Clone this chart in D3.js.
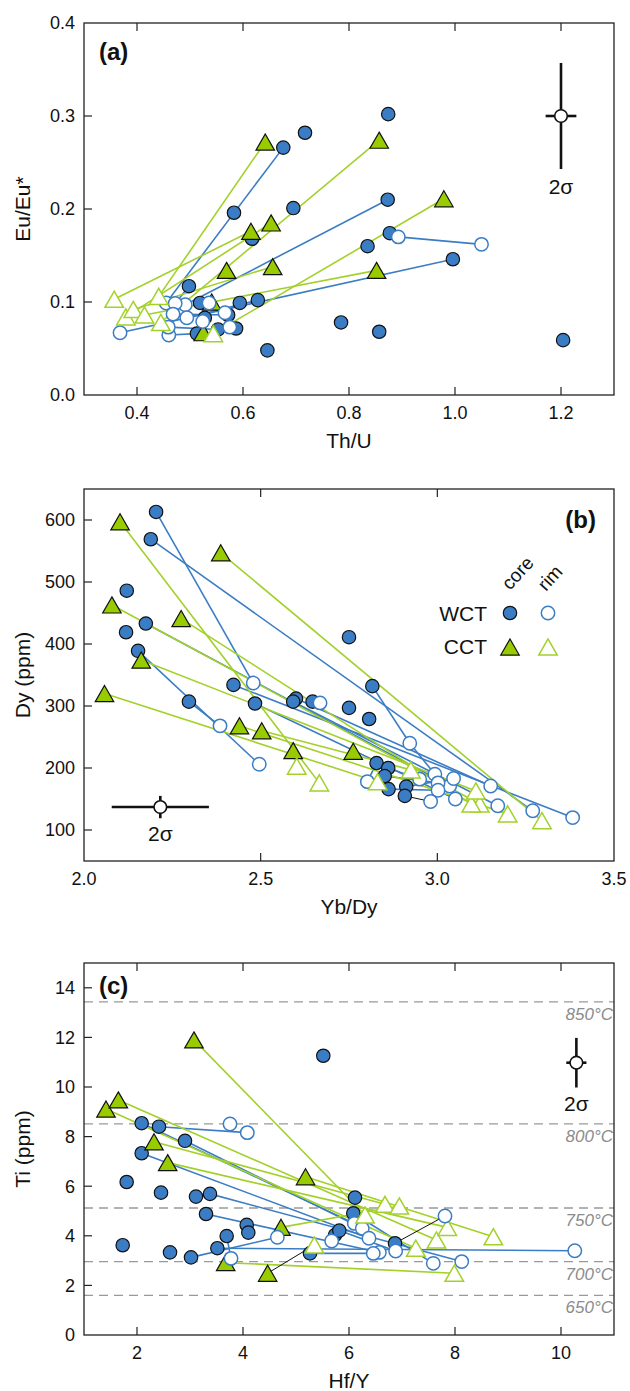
<!DOCTYPE html>
<html><head><meta charset="utf-8">
<script src="https://cdn.jsdelivr.net/npm/d3@7"></script>
<style>
body{margin:0;background:#fff}
text{font-family:"Liberation Sans",Arial,Helvetica,sans-serif;fill:#111}
</style></head><body>
<svg width="630" height="1391"></svg>
<script>
// ---- panel (a): Th/U vs Eu/Eu*  (grain = [core, rim, ...]) ----
const aWct = [
  [[0.874,0.302]], [[0.717,0.282]], [[0.676,0.266],[0.455,0.099]], [[0.583,0.196]],
  [[0.695,0.201]], [[0.617,0.168]], [[0.873,0.210],[0.491,0.097]],
  [[0.877,0.174],[0.893,0.170],[1.050,0.162]], [[0.835,0.160]],
  [[0.996,0.146],[0.368,0.067]], [[0.498,0.117],[0.472,0.0985]],
  [[0.519,0.099],[0.536,0.099]], [[0.594,0.099],[0.566,0.0885]], [[0.628,0.102],[0.494,0.083]],
  [[0.513,0.066],[0.460,0.0645]], [[0.553,0.0705],[0.459,0.073]], [[0.587,0.0715],[0.575,0.073]],
  [[0.528,0.083],[0.524,0.079]], [[0.572,0.086],[0.468,0.087]],
  [[0.646,0.048]], [[0.785,0.078]], [[0.857,0.068]], [[1.204,0.059]]
];
const aCct = [
  [[0.642,0.272],[0.441,0.106]], [[0.857,0.274],[0.445,0.078]], [[0.979,0.211],[0.544,0.066]],
  [[0.615,0.176],[0.357,0.103]], [[0.653,0.185],[0.379,0.084]], [[0.656,0.138],[0.393,0.092]],
  [[0.569,0.134]], [[0.852,0.134],[0.414,0.086]], [[0.541,0.100]], [[0.525,0.067]]
];
const aBlack = [];
const aXTicks = [0.4, 0.6, 0.8, 1.0, 1.2];
const aYTicks = [0.0, 0.1, 0.2, 0.3, 0.4];
const aSigma = [1.2, 0.3, 0.029, 0.057];

// ---- panel (b): Yb/Dy vs Dy ----
const bWct = [
  [[2.204,613],[2.479,337]], [[2.189,569],[3.270,131]], [[2.121,486]], [[2.175,433],[3.035,171]],
  [[2.119,419]], [[2.153,389],[2.496,206]], [[2.423,334],[3.383,120]], [[2.297,307],[2.385,268]],
  [[2.484,304],[3.051,150]], [[2.600,312],[3.151,171]], [[2.592,307],[3.171,139]],
  [[2.647,307],[2.668,305]], [[2.750,411]], [[2.816,332],[2.922,240],[2.993,190]],
  [[2.750,297]], [[2.807,279]], [[2.828,208],[2.802,178]], [[2.861,200],[2.950,182]],
  [[2.851,187],[3.002,176]], [[2.862,166],[3.002,164]], [[2.912,170],[3.046,183]]
];
const bCct = [
  [[2.102,597],[2.666,176]], [[2.387,547],[3.296,115]], [[2.079,463],[3.120,142]],
  [[2.275,441],[3.096,142]], [[2.162,374],[3.109,163]], [[2.058,320],[2.831,178]],
  [[2.440,268],[3.199,126]], [[2.503,260],[2.925,197]], [[2.592,228],[2.602,203]], [[2.762,227]]
];
const bBlack = [["WCT", [[2.908,155],[2.981,146]]]];
const bXTicks = [2.0, 2.5, 3.0, 3.5];
const bYTicks = [100, 200, 300, 400, 500, 600];
const bSigma = [2.216, 137, 0.1375, 18];

// ---- panel (c): Hf/Y vs Ti ----
const cWct = [
  [[5.515,11.26]], [[2.088,8.54],[6.10,4.50]], [[2.415,8.40],[4.081,8.16]], [[2.906,7.83],[6.25,4.30]],
  [[2.088,7.33],[6.377,3.90]], [[1.805,6.17]], [[2.453,5.74]], [[3.113,5.58]],
  [[3.377,5.69],[8.127,2.96]], [[3.302,4.88],[6.572,3.33]], [[4.07,4.44]], [[4.10,4.13]],
  [[3.692,3.99],[3.774,3.09]], [[1.73,3.62]], [[2.623,3.33]], [[3.019,3.13],[4.648,3.94]],
  [[3.516,3.50],[10.26,3.40]], [[5.264,3.29],[6.458,3.29]], [[5.736,4.03],[5.673,3.79]],
  [[5.817,4.21],[6.88,3.39]], [[6.113,5.54]], [[6.081,4.91],[7.59,2.89]]
];
const cCct = [
  [[3.075,11.90],[6.302,4.84]], [[1.415,9.11],[7.26,3.50]], [[1.648,9.48],[7.65,3.83]],
  [[2.321,7.79],[6.679,5.27]], [[2.579,6.95],[7.855,4.34]], [[5.18,6.38],[8.723,3.96]],
  [[4.717,4.34],[6.949,5.20]], [[3.673,2.92],[7.987,2.49]]
];
const cBlack = [["CCT", [[4.465,2.49],[5.345,3.63]]], ["WCT", [[6.868,3.70],[7.811,4.80]]]];
const cLoneRims = [[3.755,8.51]];
const cXTicks = [2, 4, 6, 8, 10];
const cYTicks = [0, 2, 4, 6, 8, 10, 12, 14];
const cSigma = [10.29, 10.98, 0.19, 1.0];
const cTempLabels = ["850°C", "800°C", "750°C", "700°C", "650°C"];
const cTempTi = [13.43, 8.51, 5.12, 2.96, 1.60];

const BLUE = "#3b7dc4", GREEN = "#99cc00", GLINE = "#a3d12a";
const L = 84, R = 614;
const svg = d3.select("svg");

const tri = (s) => { const h = s * 0.87; return `M0,${-h/2}L${s/2},${h/2}L${-s/2},${h/2}Z`; };

function marker(g, suite, core, px, py) {
  if (suite === "WCT") {
    g.append("circle").attr("cx", px).attr("cy", py).attr("r", 6.7)
      .attr("fill", core ? BLUE : "#fff")
      .attr("stroke", core ? "#111" : BLUE).attr("stroke-width", core ? 1.2 : 1.5);
  } else {
    g.append("path").attr("d", tri(18.5)).attr("transform", `translate(${px},${py})`)
      .attr("fill", core ? GREEN : "#fff")
      .attr("stroke", core ? "#111" : GLINE).attr("stroke-width", core ? 1.2 : 1.5);
  }
}

function drawPanel(p) {
  const x = d3.scaleLinear().domain(p.xDom).range([L, R]);
  const y = d3.scaleLinear().domain(p.yDom).range([p.bottom, p.top]);
  const g = svg.append("g");

  // temperature isotherms
  if (p.temps) {
    p.temps.forEach((t, i) => {
      g.append("line").attr("x1", L).attr("x2", R).attr("y1", y(t)).attr("y2", y(t))
        .attr("stroke", "#999").attr("stroke-width", 1.3).attr("stroke-dasharray", "9,6");
      g.append("text").attr("x", R - 1).attr("y", y(t) + 18).attr("text-anchor", "end")
        .style("font-size", "17px").style("font-style", "italic").style("fill", "#8c8c8c")
        .text(p.tempLabels[i]);
    });
  }

  const all = [].concat(p.wct.map(d => ["WCT", d]), p.cct.map(d => ["CCT", d]));
  const lines = g.append("g"), cores = g.append("g"), rims = g.append("g");
  all.forEach(([s, pts]) => {
    for (let i = 1; i < pts.length; i++) {
      lines.append("line")
        .attr("x1", x(pts[i-1][0])).attr("y1", y(pts[i-1][1]))
        .attr("x2", x(pts[i][0])).attr("y2", y(pts[i][1]))
        .attr("stroke", s === "WCT" ? BLUE : GLINE).attr("stroke-width", 1.6);
    }
  });
  p.black.forEach(([s, pts]) => {
    lines.append("line")
      .attr("x1", x(pts[0][0])).attr("y1", y(pts[0][1]))
      .attr("x2", x(pts[1][0])).attr("y2", y(pts[1][1]))
      .attr("stroke", "#111").attr("stroke-width", 1);
  });
  all.concat(p.black).forEach(([s, pts]) => {
    marker(cores, s, true, x(pts[0][0]), y(pts[0][1]));
    pts.slice(1).forEach(q => marker(rims, s, false, x(q[0]), y(q[1])));
  });
  (p.loneRims || []).forEach(q => marker(rims, "WCT", false, x(q[0]), y(q[1])));

  // 2 sigma error bar
  const [sx, sy, dx, dy] = p.sigma;
  const eb = g.append("g").attr("stroke", "#111").attr("stroke-width", 2.6);
  eb.append("line").attr("x1", x(sx - dx)).attr("x2", x(sx + dx)).attr("y1", y(sy)).attr("y2", y(sy));
  eb.append("line").attr("x1", x(sx)).attr("x2", x(sx)).attr("y1", y(sy - dy)).attr("y2", y(sy + dy));
  eb.append("circle").attr("cx", x(sx)).attr("cy", y(sy)).attr("r", 6.3).attr("fill", "#fff").attr("stroke-width", 1.6);
  g.append("text").attr("x", x(sx) + p.sigLab[0]).attr("y", y(sy) + p.sigLab[1])
    .attr("text-anchor", "middle").style("font-size", "21px").text("2σ");

  // frame and ticks
  g.append("rect").attr("x", L).attr("y", p.top).attr("width", R - L).attr("height", p.bottom - p.top)
    .attr("fill", "none").attr("stroke", "#222").attr("stroke-width", 1.3);
  const tk = g.append("g").attr("stroke", "#222").attr("stroke-width", 1.2);
  p.xTicks.forEach(t => {
    const px = x(t);
    if (px > L + 1 && px < R - 1) {
      tk.append("line").attr("x1", px).attr("x2", px).attr("y1", p.bottom).attr("y2", p.bottom - 8);
      tk.append("line").attr("x1", px).attr("x2", px).attr("y1", p.top).attr("y2", p.top + 8);
    }
    g.append("text").attr("x", px).attr("y", p.bottom + 24).attr("text-anchor", "middle")
      .style("font-size", "18px").text(p.xFmt(t));
  });
  p.yTicks.forEach(t => {
    const py = y(t);
    if (py > p.top + 1 && py < p.bottom - 1) {
      tk.append("line").attr("x1", L).attr("x2", L + 8).attr("y1", py).attr("y2", py);
    }
    g.append("text").attr("x", L - 9).attr("y", py).attr("dy", "0.36em").attr("text-anchor", "end")
      .style("font-size", "18px").text(p.yFmt(t));
  });

  g.append("text").attr("x", (L + R) / 2).attr("y", p.bottom + 53).attr("text-anchor", "middle")
    .style("font-size", "21px").text(p.xTitle);
  g.append("text").attr("transform", `translate(30,${(p.top + p.bottom) / 2}) rotate(-90)`)
    .attr("text-anchor", "middle").style("font-size", "21px").text(p.yTitle);
  g.append("text").attr("x", p.tag[0]).attr("y", p.tag[1]).attr("text-anchor", p.tag[2])
    .style("font-size", "24px").style("font-weight", "bold").text(p.tagText);
}

drawPanel({
  top: 23, bottom: 395, xDom: [0.3, 1.3], yDom: [0, 0.4],
  xTicks: aXTicks, yTicks: aYTicks, xFmt: d3.format(".1f"), yFmt: d3.format(".1f"),
  wct: aWct, cct: aCct, black: aBlack, sigma: aSigma, sigLab: [0, 78],
  xTitle: "Th/U", yTitle: "Eu/Eu*", tag: [99, 60, "start"], tagText: "(a)"
});
drawPanel({
  top: 489, bottom: 861, xDom: [2.0, 3.5], yDom: [50, 650],
  xTicks: bXTicks, yTicks: bYTicks, xFmt: d3.format(".1f"), yFmt: d3.format("d"),
  wct: bWct, cct: bCct, black: bBlack, sigma: bSigma, sigLab: [0, 34],
  xTitle: "Yb/Dy", yTitle: "Dy (ppm)", tag: [596, 528, "end"], tagText: "(b)"
});
drawPanel({
  top: 963, bottom: 1335, xDom: [1, 11], yDom: [0, 15],
  xTicks: cXTicks, yTicks: cYTicks, xFmt: d3.format("d"), yFmt: d3.format("d"),
  wct: cWct, cct: cCct, black: cBlack, loneRims: cLoneRims, sigma: cSigma, sigLab: [0, 48],
  temps: cTempTi, tempLabels: cTempLabels,
  xTitle: "Hf/Y", yTitle: "Ti (ppm)", tag: [99, 994, "start"], tagText: "(c)"
});

// legend of panel (b)
const lg = svg.append("g");
lg.append("text").attr("x", 487).attr("y", 621).attr("text-anchor", "end").style("font-size", "21px").text("WCT");
lg.append("text").attr("x", 487).attr("y", 654).attr("text-anchor", "end").style("font-size", "21px").text("CCT");
marker(lg, "WCT", true, 510, 613);
marker(lg, "WCT", false, 548, 613);
marker(lg, "CCT", true, 510, 647);
marker(lg, "CCT", false, 548, 647);
lg.append("text").attr("transform", "translate(510,591) rotate(-48)").style("font-size", "19px").text("core");
lg.append("text").attr("transform", "translate(546,592) rotate(-48)").style("font-size", "19px").text("rim");
</script></body></html>
